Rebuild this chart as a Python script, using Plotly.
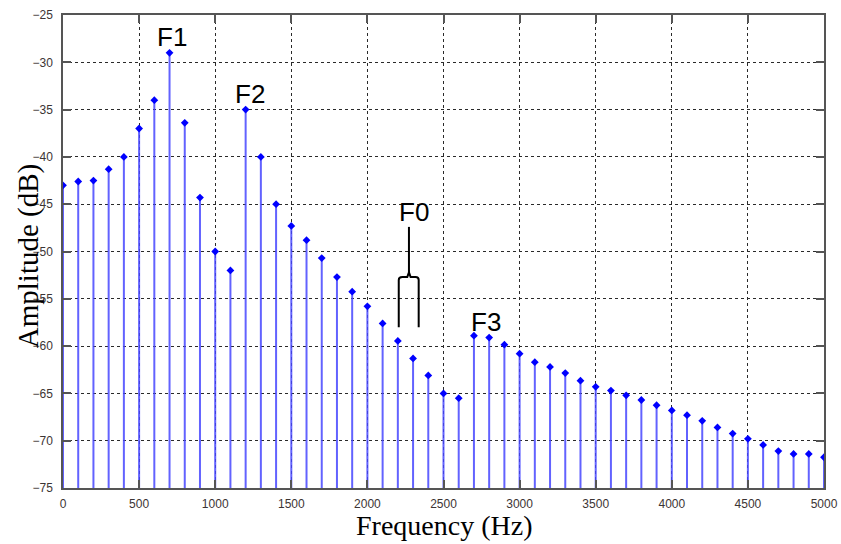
import plotly.graph_objects as go

# Harmonic frequencies (Hz) and their amplitudes (dB)
freqs = list(range(0, 5001, 100))
amps = [
    -43.0, -42.6, -42.5, -41.3, -40.0, -37.0, -34.0, -29.0, -36.4, -44.3,
    -50.0, -52.0, -35.0, -40.0, -45.0, -47.3, -48.8, -50.7, -52.7, -54.25,
    -55.8, -57.6, -59.45, -61.3, -63.1, -65.0, -65.5, -58.9, -59.1, -59.85,
    -60.8, -61.7, -62.2, -62.85, -63.65, -64.3, -64.7, -65.2, -65.7, -66.25,
    -66.8, -67.3, -67.9, -68.6, -69.25, -69.8, -70.45, -71.1, -71.4, -71.4,
    -71.75,
]
baseline = -75

# Labels placed over the spectrum
peak_labels = ["F1", "F2", "F0", "F3"]
peak_x = [717, 1227, 2304, 2777]
peak_y = [-27.3, -33.4, -45.8, -57.4]

x_ticks = list(range(0, 5001, 500))
y_ticks = list(range(-75, -24, 5))

# Build stem segments separated by gaps
stem_x, stem_y = [], []
for f, a in zip(freqs, amps):
    stem_x += [f, f, None]
    stem_y += [baseline, a, None]

fig = go.Figure()
fig.add_trace(go.Scatter(
    x=stem_x, y=stem_y, mode="lines",
    line=dict(color="rgba(70,70,255,0.85)", width=2),
    hoverinfo="skip", showlegend=False,
))
fig.add_trace(go.Scatter(
    x=freqs, y=amps, mode="markers",
    marker=dict(color="#0000ff", size=6, symbol="diamond"),
    showlegend=False,
))

for t, x, y in zip(peak_labels, peak_x, peak_y):
    fig.add_annotation(
        x=x, y=y, text=t, showarrow=False,
        font=dict(family="Liberation Sans, Arial", size=26, color="black"),
    )

# Brace marking the spacing of two adjacent harmonics (F0)
fig.add_shape(type="path",
    path="M 2206,-58.0 L 2206,-53.0 Q 2206,-52.7 2230,-52.7 L 2262,-52.7 "
         "L 2273,-52.2 L 2284,-52.7 L 2316,-52.7 Q 2337,-52.7 2337,-53.0 L 2337,-58.0",
    line=dict(color="black", width=2))
fig.add_shape(type="line", x0=2273, x1=2273, y0=-47.4, y1=-52.2,
              line=dict(color="black", width=2))

axis_common = dict(
    showgrid=True, gridcolor="#2a2a2a", gridwidth=1, griddash="3px,3px",
    showline=True, linecolor="#555555", linewidth=1.5, mirror="allticks",
    ticks="inside", ticklen=8, tickcolor="#555555", tickwidth=1.5,
    zeroline=False, automargin=False,
    tickfont=dict(family="Liberation Sans, Arial", size=12, color="#3c3434"),
)

fig.update_xaxes(range=[0, 5000], tickvals=x_ticks, ticklabelstandoff=4, **axis_common)
fig.update_yaxes(range=[-75, -25], tickvals=y_ticks, ticklabelstandoff=6, **axis_common)

fig.add_annotation(
    xref="paper", yref="paper", x=0.5, y=0, yshift=-37,
    xanchor="center", yanchor="middle",
    text="Frequency (Hz)", showarrow=False,
    font=dict(family="Liberation Serif, Times New Roman", size=28, color="black"),
)
fig.add_annotation(
    xref="paper", yref="paper", x=0, y=0.49, xshift=-35,
    xanchor="center", yanchor="middle",
    text="Amplitude (dB)", textangle=-90, showarrow=False,
    font=dict(family="Liberation Serif, Times New Roman", size=29, color="black"),
)

fig.update_layout(
    width=841, height=544,
    margin=dict(l=63, r=17, t=15, b=56),
    plot_bgcolor="white", paper_bgcolor="white",
)

fig.write_html("out.html")
